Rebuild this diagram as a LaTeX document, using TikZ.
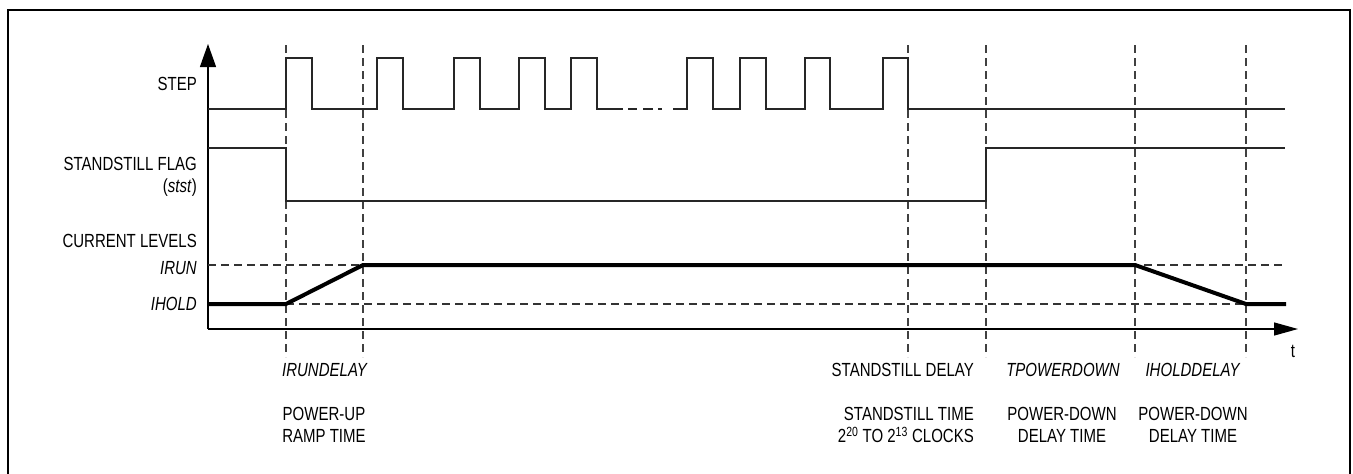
\documentclass[tikz,border=0pt]{standalone}
\usepackage{fontspec}
\setmainfont{Liberation Sans}[FakeStretch=0.79]
\usetikzlibrary{arrows.meta}
\begin{document}
\begin{tikzpicture}[x=1pt,y=-1pt,
  lbl/.style={font=\fontsize{19}{22}\selectfont, inner sep=0pt},
  sig/.style={line width=1.1pt, black!85},
  vdash/.style={line width=1.2pt, black!75, dash pattern=on 8pt off 5pt},
  hdash/.style={line width=1.1pt, black!80, dash pattern=on 8pt off 5pt},
  cur/.style={line width=4pt, line join=round},
  axis/.style={line width=1.3pt}]
\useasboundingbox (0,0) rectangle (1353,474);
% frame
\draw[line width=1.6pt] (8,476) -- (8,10) -- (1350,10) -- (1350,476);
% axes
\coordinate (o) at (208,329);
\coordinate (ytip) at (208,44);
\coordinate (xtip) at (1298,329);
\draw[axis, -{Triangle[length=23pt,width=16pt]}] (o) -- (ytip);
\draw[axis, -{Triangle[length=24pt,width=13pt]}] (o) -- (xtip);
% dashed vertical markers
\foreach \x/\n in {286/a,363/b,908/c,986/d,1135/e,1246/f}{
  \coordinate (top\n) at (\x,45);
  \coordinate (bot\n) at (\x,357);
  \draw[vdash] (top\n) -- (bot\n);
}
% current level reference lines
\coordinate (irunL) at (208,265); \coordinate (irunR) at (1285,265);
\coordinate (iholdL) at (208,304); \coordinate (iholdR) at (1285,304);
\draw[hdash] (irunL) -- (irunR);
\draw[hdash] (iholdL) -- (iholdR);
% STEP signal
\draw[sig] (208,109) -- (286,109) -- (286,58) -- (312,58) -- (312,109)
  -- (377,109) -- (377,58) -- (403,58) -- (403,109)
  -- (454,109) -- (454,58) -- (480,58) -- (480,109)
  -- (519,109) -- (519,58) -- (545,58) -- (545,109)
  -- (571,109) -- (571,58) -- (597,58) -- (597,109) -- (623,109);
\draw[sig] (628,109) -- (637,109) (643,109) -- (653,109) (658,109) -- (662,109);
\draw[sig] (673,109) -- (687,109) -- (687,58) -- (713,58) -- (713,109)
  -- (740,109) -- (740,58) -- (766,58) -- (766,109)
  -- (805,109) -- (805,58) -- (830,58) -- (830,109)
  -- (883,109) -- (883,58) -- (908,58) -- (908,109) -- (1285,109);
% standstill flag
\draw[sig] (208,148) -- (286,148) -- (286,201) -- (986,201) -- (986,148) -- (1285,148);
% current
\draw[cur] (208,304) -- (286,304) -- (363,265) -- (1135,265) -- (1246,304) -- (1286,304);
% left labels
\node[lbl, anchor=base east] (step) at (197,90.5) {STEP};
\node[lbl, anchor=base east] (flag) at (197,170) {STANDSTILL FLAG};
\node[lbl, anchor=base east] (stst) at (197,192) {(\textit{stst})};
\node[lbl, anchor=base east] (cl) at (197,247.5) {CURRENT LEVELS};
\node[lbl, anchor=base east] (irun) at (197,274.5) {\textit{IRUN}};
\node[lbl, anchor=base east] (ihold) at (197,310) {\textit{IHOLD}};
\node[lbl, anchor=base] (t) at (1293,357.5) {t};
% bottom labels
\node[lbl, anchor=base] (ird) at (325,376) {\textit{IRUNDELAY}};
\node[lbl, anchor=base] (pu1) at (324,420) {POWER-UP};
\node[lbl, anchor=base] (pu2) at (324,442.5) {RAMP TIME};
\node[lbl, anchor=base east] (sd) at (974,376) {STANDSTILL DELAY};
\node[lbl, anchor=base east] (st1) at (974,420) {STANDSTILL TIME};
\node[lbl, anchor=base east] (st2) at (974,442.5) {2\textsuperscript{20} TO 2\textsuperscript{13} CLOCKS};
\node[lbl, anchor=base] (tpd) at (1063,376) {\textit{TPOWERDOWN}};
\node[lbl, anchor=base] (pd1) at (1062,420) {POWER-DOWN};
\node[lbl, anchor=base] (pd2) at (1062,442.5) {DELAY TIME};
\node[lbl, anchor=base] (ihd) at (1193,376) {\textit{IHOLDDELAY}};
\node[lbl, anchor=base] (pe1) at (1193,420) {POWER-DOWN};
\node[lbl, anchor=base] (pe2) at (1193,442.5) {DELAY TIME};
\end{tikzpicture}
\end{document}
